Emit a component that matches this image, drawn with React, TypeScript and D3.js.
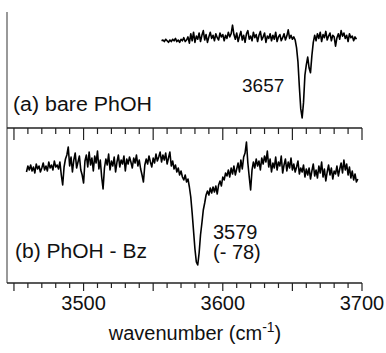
import React from "react";
import * as d3 from "d3";

// Panel (a): bare PhOH, wavenumber 3556..3696 step 1
const bareStart = 3556;
const bareValues = [
  0.99, 1.0, 0.98, 1.01, 0.99, 0.97, 1.0, 0.98, 1.01, 0.99, 1.02, 0.98, 1.0, 0.97, 1.01, 0.99, 1.03, 0.98, 1.0, 1.04,
  0.96, 1.08, 0.99, 1.1, 0.97, 1.05, 1.01, 1.09, 0.98, 1.06, 1.12, 1.0, 1.07, 0.97, 1.04, 1.1, 1.02, 1.06, 0.99, 1.08, 1.03, 1.0, 1.09, 1.04, 1.07,
  0.99, 1.06, 1.02, 1.1, 1.04, 1.08, 1.19, 1.07, 1.01, 1.09, 0.98, 1.05, 1.11, 1.0, 1.06, 0.97, 1.08, 1.12, 1.01, 1.05, 0.99, 1.1, 1.03, 1.07, 0.98,
  1.06, 1.11, 1.0, 1.04, 1.09, 0.97, 1.05, 1.02, 1.08, 0.99, 1.06, 1.01, 1.1, 0.98, 1.04, 1.07, 0.99, 1.03, 1.08, 1.0, 1.05, 1.13, 1.02, 1.06, 1.01, 1.04,
  1.0, 0.9, 0.72, 0.4, 0.12, 0.0, 0.2, 0.55, 0.68, 0.78, 0.64, 0.58, 0.8, 0.97, 1.06, 0.99,
  1.08, 1.02, 1.1, 0.98, 1.07, 1.03, 1.11, 1.0, 1.05, 1.09, 0.99, 1.06, 1.04, 0.92, 1.03, 1.08, 1.01, 1.12, 1.05, 1.09, 1.02, 1.06, 0.98, 1.08, 1.03, 1.05, 0.99, 1.04, 1.01,
];

// Panel (b): PhOH - Bz, wavenumber 3459..3697 step 1
const complexStart = 3459;
const complexValues = [
  0.93, 0.99, 0.95, 1.0, 0.94, 0.98, 0.92, 1.01, 0.96, 0.99, 0.93, 0.97, 1.02, 0.95, 0.99, 0.94, 1.03, 0.97, 1.0, 0.95, 1.04, 0.98,
  1.0, 0.96, 1.03, 0.9, 0.8, 0.98, 1.06, 1.1, 1.18, 0.99, 1.08, 0.93, 1.05, 1.12, 0.97, 1.03, 1.09, 0.95, 0.9, 0.82,
  1.04, 1.1, 0.98, 1.13, 1.0, 1.07, 0.94, 1.09, 1.02, 1.14, 0.96, 1.05, 0.88, 0.76, 0.97, 1.06, 1.0, 1.11, 0.95, 1.04, 0.99, 1.08, 0.93, 1.03, 1.1, 0.98, 1.05, 1.01, 1.09, 0.94,
  1.06, 1.01, 1.08, 1.03, 0.97, 1.07, 1.02, 1.1, 0.99, 1.05, 0.96, 0.9, 0.83, 1.0, 1.06, 1.01, 1.09, 1.03, 0.98, 1.07, 1.02, 1.11, 1.04, 1.08, 1.13, 1.03, 1.1, 1.05, 1.12, 1.01, 1.07, 1.13, 0.99, 1.04, 0.96,
  1.0, 0.93, 0.97, 0.9, 0.94, 0.88, 0.85, 0.9, 0.83, 0.86, 0.78, 0.68, 0.52, 0.34, 0.16, 0.03, 0.0, 0.12, 0.3, 0.42, 0.55, 0.62, 0.7, 0.74, 0.7, 0.77, 0.72, 0.78, 0.73, 0.79, 0.71, 0.8, 0.84, 0.79, 0.88,
  0.85, 0.92, 0.89, 0.95, 0.88, 0.97, 0.91, 0.99, 0.9, 0.96, 1.02, 0.93, 1.05, 0.96, 1.08, 1.12, 1.23, 1.02, 0.88, 0.75, 0.95, 1.03, 0.97, 1.06, 0.99,
  1.04, 0.95, 1.07, 1.01, 1.09, 1.03, 1.14, 0.98, 1.06, 0.93, 1.02, 0.97, 1.08, 0.95, 1.03, 0.99, 1.09, 0.92, 1.0, 1.06, 0.94, 1.03, 0.97, 1.07, 0.95, 1.01, 0.93, 0.98, 1.04, 0.91, 0.97, 0.93, 1.0, 0.88, 0.96,
  0.9, 0.97, 0.86, 0.94, 1.01, 0.89, 0.95, 0.87, 0.99, 0.92, 1.03, 0.88, 0.96, 0.84, 0.93, 1.0, 0.9, 0.97, 0.86, 0.94, 0.91, 0.99, 0.89, 0.96, 1.02, 0.92, 1.05, 0.95, 1.01, 0.9, 0.98, 0.87, 0.94, 0.85, 0.91, 0.83, 0.86,
];

const xDomain = [3445, 3700];
const labeledTicks = [3500, 3600, 3700];
const allTicks = d3.range(3450, 3701, 10);

const FONT = "'Liberation Sans', Arial, Helvetica, sans-serif";

export default function App() {
  const x = d3.scaleLinear().domain(xDomain).range([7, 362]);
  const yA = d3.scaleLinear().domain([0, 1]).range([118, 40]);
  const yB = d3.scaleLinear().domain([0, 1]).range([265, 165]);

  const ptsA = bareValues.map((v, i) => [bareStart + i, v] as [number, number]);
  const ptsB = complexValues.map((v, i) => [complexStart + i, v] as [number, number]);

  const lineA = d3.line<[number, number]>().x((d) => x(d[0])).y((d) => yA(d[1]));
  const lineB = d3.line<[number, number]>().x((d) => x(d[0])).y((d) => yB(d[1]));

  const sepY = 128;
  const botY = 283;

  return (
    <svg
      width={386}
      height={353}
      style={{ position: "absolute", left: 0, top: 0, background: "#fff" }}
      fontFamily={FONT}
    >
      {/* left axis */}
      <line x1={7} x2={7} y1={12} y2={botY} stroke="#777" strokeWidth={1.5} />
      {/* separator axis */}
      <line x1={7} x2={x(3700)} y1={sepY} y2={sepY} stroke="#222" strokeWidth={1.5} />
      {allTicks.map((t) => (
        <line
          key={"s" + t}
          x1={x(t)}
          x2={x(t)}
          y1={sepY}
          y2={sepY + (t % 50 === 0 ? 12 : 6)}
          stroke="#222"
          strokeWidth={1.2}
        />
      ))}
      {/* bottom axis */}
      <line x1={7} x2={x(3700)} y1={botY} y2={botY} stroke="#222" strokeWidth={1.5} />
      {allTicks.map((t) => (
        <line
          key={"b" + t}
          x1={x(t)}
          x2={x(t)}
          y1={botY}
          y2={botY + (t % 50 === 0 ? 8 : 5)}
          stroke="#222"
          strokeWidth={1.2}
        />
      ))}
      {labeledTicks.map((t) => (
        <text key={"l" + t} x={x(t)} y={310} fontSize={20} textAnchor="middle" fill="#111">
          {t}
        </text>
      ))}
      <text x={195} y={340} fontSize={20} textAnchor="middle" fill="#111">
        wavenumber (cm<tspan dy={-8} fontSize={14}>-1</tspan>
        <tspan dy={8}>)</tspan>
      </text>

      {/* traces */}
      <path d={lineA(ptsA) || ""} fill="none" stroke="#000" strokeWidth={1.6} strokeLinejoin="round" />
      <path d={lineB(ptsB) || ""} fill="none" stroke="#000" strokeWidth={1.6} strokeLinejoin="round" />

      {/* annotations */}
      <text x={13} y={111} fontSize={20} fill="#111" textLength={139} lengthAdjust="spacingAndGlyphs">(a) bare PhOH</text>
      <text x={242} y={92} fontSize={19} fill="#111">3657</text>
      <text x={15} y={258} fontSize={20} fill="#111" textLength={132} lengthAdjust="spacingAndGlyphs">(b) PhOH - Bz</text>
      <text x={213} y={239} fontSize={20} fill="#111">3579</text>
      <text x={213} y={259} fontSize={20} fill="#111">(- 78)</text>
    </svg>
  );
}
